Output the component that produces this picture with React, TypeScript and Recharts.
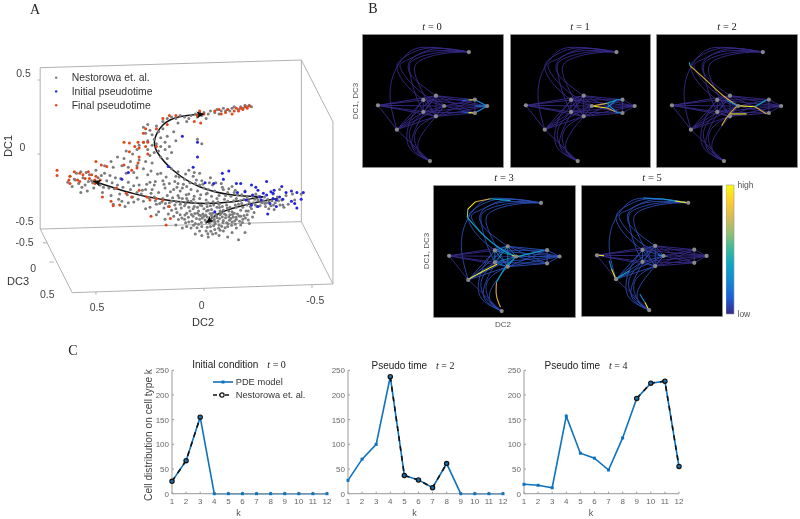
import React from "react";
import {
  ComposedChart,
  BarChart,
  Bar,
  LineChart,
  Line,
  Scatter,
  XAxis,
  YAxis,
  Legend,
} from "recharts";

type Pair = [number, number];

/* ---------- panel A: readings, [DC2, DC1] as projected on the page ---------- */
const nestorowaCells: Pair[] = [
  [.19,.22],[.17,.24],[.15,.25],[.13,.24],[.11,.26],[.09,.25],[.07,.24],[.06,.26],[.04,.27],[.02,.28],[.01,.26],[0,.28],[-.02,.27],[-.03,.29],[-.05,.28],[-.06,.30],[-.08,.29],[-.09,.31],[-.11,.30],[-.12,.29],[-.13,.31],[-.14,.32],[-.16,.30],[-.17,.32],[-.18,.31],[-.19,.33],[-.20,.32],[-.21,.33],[-.22,.32],[-.10,.29],[-.07,.27],[.03,.25],[-.01,.24],[.08,.22],[.12,.21],
  [.28,.18],[.26,.20],[.25,.16],[.27,.14],[.24,.13],[.22,.19],[.21,.15],[.23,.10],[.20,.11],[.19,.17],[.26,.09],[.24,.06],[.22,.07],[.20,.05],[.18,.08],[.17,.12],[.28,.08],[.30,.06],[.31,.03],[.26,.03],[.23,.01],[.21,.02],[.18,.03],[.16,.05],[.15,.01],[.25,-.01],[.20,-.02],[.17,-.03],[.13,.09],[.14,.15],[.33,0],[.36,.02],[.40,-.02],[.37,-.03],[.34,-.05],[.30,-.04],[.27,-.05],[.43,-.05],[.46,-.08],[.42,-.09],[.38,-.08],[.35,-.09],[.31,-.08],[.28,-.10],[.24,-.06],[.03,.10],[.01,.07],
  [.62,-.15],[.60,-.17],[.63,-.19],[.59,-.13],[.57,-.12],[.56,-.16],[.58,-.20],[.61,-.22],[.55,-.21],[.53,-.14],[.52,-.18],[.50,-.11],[.51,-.23],[.54,-.25],[.57,-.26],[.49,-.16],[.48,-.21],[.47,-.26],[.46,-.13],[.45,-.18],[.44,-.23],[.43,-.28],[.41,-.16],[.40,-.21],[.39,-.27],[.42,-.34],[.38,-.32],[.36,-.13],[.35,-.19],[.34,-.24],[.33,-.29],[.35,-.33],[.31,-.16],[.30,-.21],[.29,-.27],[.28,-.32],[.27,-.37],[.26,-.14],[.25,-.19],[.24,-.24],[.23,-.29],[.22,-.34],[.21,-.39],[.20,-.13],[.19,-.18],[.18,-.23],[.17,-.28],[.16,-.33],[.15,-.38],[.14,-.42],[.18,-.44],[.22,-.41],[.25,-.36],
  [.15,-.10],[.13,-.15],[.12,-.20],[.11,-.25],[.10,-.30],[.09,-.35],[.08,-.40],[.12,-.12],[.09,-.17],[.08,-.22],[.07,-.27],[.06,-.32],[.05,-.37],[.07,-.11],[.05,-.15],[.04,-.20],[.03,-.25],[.02,-.30],[.01,-.35],[.02,-.13],[.01,-.18],[0,-.23],[-.01,-.27],[-.02,-.33],[-.03,-.16],[-.04,-.21],[-.05,-.25],[-.06,-.30],[-.07,-.34],[-.08,-.20],[-.09,-.24],[-.10,-.28],[-.11,-.32],[-.12,-.36],[-.13,-.22],[-.14,-.26],[-.15,-.30],[-.16,-.34],[-.17,-.38],[-.19,-.25],[-.20,-.29],[-.21,-.33],[-.22,-.37],[-.24,-.27],[-.25,-.31],[-.26,-.35],[-.28,-.29],[-.29,-.33],[-.30,-.37],[-.32,-.27],[-.33,-.33],[-.35,-.24],[-.36,-.31],[-.38,-.28],[-.39,-.34],[-.41,-.27],[-.42,-.31],[-.45,-.27],
  [.13,-.37],[.11,-.41],[.09,-.44],[.07,-.46],[.05,-.42],[.04,-.47],[.03,-.40],[.02,-.44],[.01,-.49],[0,-.42],[-.01,-.46],[-.01,-.52],[-.02,-.38],[-.03,-.44],[-.03,-.49],[-.04,-.54],[-.04,-.40],[-.05,-.46],[-.05,-.51],[-.06,-.43],[-.07,-.48],[-.07,-.55],[-.08,-.40],[-.09,-.45],[-.09,-.52],[-.10,-.43],[-.11,-.49],[-.11,-.56],[-.12,-.41],[-.13,-.46],[-.13,-.53],[-.14,-.40],[-.15,-.44],[-.15,-.50],[-.16,-.58],[-.17,-.42],[-.17,-.48],[-.18,-.44],[-.19,-.53],[-.20,-.41],[-.21,-.47],[.06,-.50],[.08,-.49],[.10,-.50],[.13,-.48],[.04,-.54],[.01,-.55],[-.02,-.56],[.02,-.52],[-.06,-.36],[-.09,-.38],[-.13,-.39],[-.18,-.36],[0,-.37],[.04,-.33],[.08,-.30],[.12,-.28],[.14,-.24],[.16,-.20],[.10,-.23],[.06,-.24],[.02,-.21],[-.02,-.24],[-.07,-.28],[-.11,-.26],[-.15,-.36],[-.03,-.35],[-.01,-.31],[.03,-.36],[.07,-.36],[.11,-.34],[.15,-.32],[.19,-.30],[.21,-.26],[.23,-.21],[.27,-.24],[.31,-.26],[-.23,-.33],[-.27,-.33],[-.31,-.35],[-.34,-.29],[-.37,-.36],
  [.205,-.335],[.185,-.365],[.165,-.405],[.125,-.395],[.105,-.365],[.085,-.335],[.065,-.385],[.045,-.355],[.025,-.385],[.005,-.405],[-.015,-.425],[-.035,-.415],[-.025,-.465],[-.045,-.485],[-.065,-.455],[-.085,-.425],[-.105,-.465],[-.125,-.435],[-.145,-.475],[-.165,-.455],[-.185,-.415],[-.205,-.445],[-.225,-.425],[-.195,-.385],[-.155,-.405],[-.115,-.385],[-.075,-.385],[-.055,-.405],[-.095,-.405],[-.135,-.425],[-.075,-.515],[-.055,-.535],[-.015,-.495],[.025,-.475],[.055,-.455],[.085,-.465],[.015,-.415],[.035,-.435],[-.005,-.445],[-.035,-.375],[-.015,-.355],[-.045,-.345],[-.085,-.355],[-.105,-.345],[-.145,-.345],[-.175,-.335],[-.205,-.315],[-.235,-.305],[-.255,-.285],[-.275,-.315],[-.295,-.305],[-.315,-.315],[-.345,-.315],[-.365,-.345],[-.325,-.375],[-.285,-.355],[-.245,-.355],[-.215,-.355],[-.185,-.305],[-.155,-.275],[-.125,-.285],[-.095,-.305],[-.065,-.325],[-.035,-.285],[-.015,-.265],[.015,-.275],[.045,-.285],[.075,-.315],[.105,-.325],[.135,-.345],[.165,-.355],[.195,-.325],[.225,-.315],[.255,-.295],[.285,-.245],[.265,-.205],[.225,-.185],[.185,-.205],[.155,-.255],[.125,-.225],[.095,-.205],[.065,-.195],[.035,-.175],[.005,-.205],[-.025,-.195],[-.055,-.195],[-.085,-.225],[-.115,-.235],[-.145,-.245],[-.175,-.275],[-.225,-.285],[.325,-.215],[.355,-.275],[.375,-.225],[.415,-.235],[.395,-.305],[.365,-.355],[.325,-.325],[.305,-.305],[.245,-.265],[.145,-.295],[.115,-.155],[.085,-.135],[.045,-.125],[.135,-.185],[.175,-.155],[.215,-.135],[.245,-.115],[.325,-.125],[.385,-.165],[.435,-.145],[.475,-.145],[.515,-.195],[.465,-.225],[.535,-.185],[.565,-.225],[.595,-.175],[.545,-.125],[.425,-.195],
  [-.012,-.385],[-.028,-.402],[-.042,-.428],[-.058,-.418],[-.072,-.436],[-.088,-.462],[-.102,-.412],[-.118,-.448],[-.132,-.408],[-.148,-.428],[-.162,-.418],[-.178,-.462],[-.192,-.432],[-.052,-.472],[-.068,-.502],[-.082,-.488],[-.098,-.498],[-.112,-.472],[-.128,-.482],[-.008,-.412],[.008,-.432],[.022,-.412],[.042,-.402],[.058,-.408],[.072,-.428],[.088,-.412],[.102,-.432],[.118,-.442],[.012,-.462],[.032,-.498],[.048,-.482],[-.032,-.522],[-.018,-.538],[-.048,-.442],[-.035,-.455],[-.075,-.41],[-.115,-.425],[-.142,-.452],[-.205,-.385],[-.232,-.395],[-.262,-.325],[-.282,-.335],[-.302,-.325],[-.322,-.345],[-.352,-.345],[-.238,-.345],[-.198,-.345],[-.168,-.315],[-.138,-.315],[-.108,-.365],[-.072,-.362],[-.042,-.322],[-.012,-.335],[.018,-.345],[.048,-.305],[.082,-.275],[.115,-.295],[.178,-.335],[.128,-.325],
];
const initialPseudotime: Pair[] = [
  [.10,.12],[.03,.08],[.03,-.02],[.05,-.09],[.165,-.085],[.35,-.125],[.38,-.17],[-.085,-.13],[-.115,-.115],[-.09,-.17],[-.005,-.195],[-.045,-.2],[-.15,-.2],[-.17,-.2],[-.22,-.21],[-.24,-.225],[-.25,-.245],[-.275,-.265],[-.29,-.185],[-.155,-.26],[-.19,-.255],[-.225,-.277],[-.26,-.29],[-.29,-.277],[-.31,-.255],[-.325,-.245],[-.36,-.22],[-.38,-.26],[-.405,-.25],[-.43,-.26],[-.46,-.26],[-.35,-.29],[-.32,-.3],[-.335,-.31],[-.365,-.305],[-.405,-.32],[-.42,-.335],[-.45,-.305],[-.43,-.365],[-.335,-.355],[-.295,-.405],[-.25,-.355],[-.22,-.345],[-.195,-.31],[-.05,-.39],[-.32,-.265],[-.265,-.31],[-.305,-.335],
];
const finalPseudotime: Pair[] = [
  [-.05,.29],[-.07,.30],[-.08,.27],[-.10,.28],[-.11,.30],[-.13,.27],[-.14,.29],[-.15,.31],[-.16,.29],[-.17,.31],[-.18,.30],[-.19,.32],[-.20,.31],[-.21,.325],[.02,.29],[0,.27],[.03,.26],[.015,.21],[.045,.22],[.13,.26],[.16,.26],[.19,.24],[.17,.2],
  [.27,.17],[.22,.17],[.28,.14],[.305,.08],[.28,.08],[.26,.08],[.37,.08],[.345,.075],[.32,.05],[.30,.04],[.27,.05],[.22,.05],[.26,0],[.345,.015],[.30,-.02],[.305,-.06],[.37,-.075],[.335,-.11],[.31,-.095],
  [.68,-.11],[.68,-.145],[.62,-.15],[.625,-.175],[.6,-.12],[.575,-.13],[.56,-.14],[.535,-.12],[.52,-.14],[.5,-.15],[.48,-.175],[.505,-.175],[.53,-.165],[.55,-.165],[.585,-.175],[.5,-.05],[.475,-.075],[.45,-.085],[.505,-.2],[.575,-.185],[.62,-.2],
  [.47,-.29],[.43,-.32],[.42,-.35],[.39,-.345],[.335,-.29],[.3,-.245],[.265,-.29],[.25,-.31],[.22,-.3],[.19,-.31],[.245,-.42],[.155,-.435],[.175,-.48],[.36,-.265],[.405,-.23],[.16,-.355],
];
const trajectories: Pair[][] = [
  [[-.273,-.288],[-.134,-.277],[.02,-.221],[.144,-.108],[.213,.005],[.228,.095],[.19,.196],[.113,.252],[-.003,.27]],
  [[-.273,-.288],[-.134,-.322],[.02,-.333],[.174,-.311],[.329,-.266],[.514,-.182]],
  [[-.343,-.30],[-.258,-.322],[-.134,-.367],[-.057,-.412],[-.008,-.468]],
];
const boxEdges: Pair[][] = [
  [[.758,.583],[-.451,.635]],
  [[.758,.583],[.758,-.507]],
  [[.758,-.507],[-.451,-.457]],
  [[-.451,.635],[-.451,-.457]],
  [[-.451,.635],[-.597,.218]],
  [[-.597,.218],[-.597,-.878]],
  [[-.451,-.457],[-.597,-.878]],
  [[.758,-.507],[.61,-.937]],
  [[.61,-.937],[-.597,-.878]],
  [[.5,-.93],[.5,-.95]],
  [[0,-.905],[0,-.925]],
  [[-.5,-.885],[-.5,-.905]],
  [[.758,.5],[.77,.5]],
  [[.758,0],[.77,0]],
  [[.725,-.6],[.745,-.6]],
  [[.695,-.73],[.715,-.73]],
];
const axisLabelsA = [
  { x: .835, y: .54, text: "0.5" },
  { x: .84, y: .04, text: "0" },
  { x: .83, y: -.46, text: "-0.5" },
  { x: .83, y: -.6, text: "-0.5" },
  { x: .79, y: -.78, text: "0" },
  { x: .725, y: -.955, text: "0.5" },
  { x: .495, y: -1.04, text: "0.5" },
  { x: .01, y: -1.025, text: "0" },
  { x: -.515, y: -.995, text: "-0.5" },
];
const legendLabelsA = ["Nestorowa et. al.", "Initial pseudotime", "Final pseudotime"];

/* ---------- panel B: graph layout on a 0-100 square, node readings ---------- */
const T: Pair = [75.9, 87.1];
const L: Pair = [10.7, 46.7];
const LL: Pair = [24.3, 28.3];
const B: Pair = [48, 4.5];
const A: Pair = [43.2, 50.8];
const C: Pair = [43.2, 41.7];
const U: Pair = [52.3, 54];
const D: Pair = [52.3, 38.4];
const E: Pair = [58.2, 46.2];
const R1: Pair = [80.2, 51];
const R2: Pair = [80.2, 40.9];
const R3: Pair = [89, 46.2];
const nodes = [T, L, LL, B, A, C, U, D, E, R1, R2, R3];

const arcEdges: Pair[][] = [
  [T, [45.8, 90.7], [31.5, 85.6], [22, 70.5], [19.6, 50.3], LL],
  [T, [48.2, 90.2], [31.5, 84.4], [24.3, 75.5], [31.5, 61.6], A],
  [T, [50.6, 89.4], [33.4, 81.8], [26.7, 75.5], [38.7, 59.1], E],
  [T, [53, 88.1], [36.3, 83.1], [33.9, 70.5], U],
  [T, [55.3, 86.9], [37.5, 81.8], [33.4, 73], [37.5, 55.3], C],
  [T, [58, 86], [40, 80], [38, 68], [46, 50], D],
  [B, [36.3, 14.9], [33.9, 28.8], C],
  [B, [34.5, 13], [31.5, 25], [35, 38], A],
  [B, [40, 12], [37, 24], [43, 33], D],
  [B, [41, 10], [40, 20], [48, 33], E],
  [B, [39, 10], [35, 20], [42, 38], U],
];
const leftFan: Pair[][] = [[L, A], [L, C], [L, U], [L, D], [L, E], [L, LL], [LL, B]];
const lowFan: Pair[][] = [[LL, A], [LL, C], [LL, U], [LL, D], [LL, E]];
const meshEdges: Pair[][] = [[A, C], [A, U], [A, D], [A, E], [C, U], [C, D], [C, E], [U, D], [U, E], [D, E]];
const rightFan: Pair[][] = [[A, R1], [U, R1], [U, R2], [E, R1], [E, R2], [E, R3], [D, R2], [C, R2], [D, R1], [U, R3], [D, R3], [A, R3], [C, R3], [R1, R2], [R1, R3], [R2, R3]];

const parulaStops = ["#352a87", "#1d5ed8", "#1487d4", "#0ca5c4", "#38b99e", "#92bf73", "#d9ba56", "#fcce2e", "#f9fb0e"];
const indigo = parulaStops[0];
const blue = parulaStops[1];
const skyBlue = parulaStops[2];
const teal = parulaStops[3];
const dullBlue = "#2a4db4";
const gold = "#d8ae3c";
const yellow = "#f5ec20";

type Stroke = { color: string; pts: Pair[] };
const flowT0: Stroke[] = [
  { color: blue, pts: [[70.9, 50.3], [75.7, 50.8]] },
  { color: yellow, pts: [[75.7, 50.8], R1] },
  { color: blue, pts: [[70.9, 41.9], [75.7, 41.2]] },
  { color: yellow, pts: [[75.7, 41.2], R2] },
  { color: skyBlue, pts: [R1, R3] },
  { color: skyBlue, pts: [R2, R3] },
  { color: skyBlue, pts: [[80.4, 46.2], R3] },
];
const flowT1: Stroke[] = [
  { color: yellow, pts: [E, [69, 44.7]] },
  { color: gold, pts: [[69, 44.7], [76.1, 41.4]] },
  { color: skyBlue, pts: [[76.1, 41.4], R2] },
  { color: gold, pts: [E, [69, 48.2]] },
  { color: teal, pts: [[69, 48.2], [76.1, 51]] },
  { color: skyBlue, pts: [[76.1, 51], R1] },
  { color: skyBlue, pts: [[69, 44.7], [76.1, 51]] },
  { color: skyBlue, pts: [[69, 48.2], [76.1, 41.4]] },
];
const flowT2: Stroke[] = [
  { color: teal, pts: [[23.2, 79.3], [23.6, 76.8]] },
  { color: gold, pts: [[23.6, 76.8], [35.6, 65.4], [47.5, 54], [57, 47]] },
  { color: yellow, pts: [[57, 46.5], [70.2, 45.7]] },
  { color: teal, pts: [[70.2, 45.7], [78.5, 50.8]] },
  { color: gold, pts: [[70.2, 45.7], [78.5, 40.2]] },
  { color: yellow, pts: [[52.3, 40.2], [64.2, 40.2]] },
  { color: gold, pts: [[46.3, 31.3], [51, 38.9], [57, 45.7]] },
  { color: skyBlue, pts: [[49.9, 50.3], E] },
];
const flowT3: Stroke[] = [
  { color: teal, pts: [[54.2, 88.8], [40, 90.3]] },
  { color: gold, pts: [[40, 90.3], [29.5, 88]] },
  { color: yellow, pts: [[29.5, 88], [24, 82.4]] },
  { color: "#92bf73", pts: [[24, 82.4], [23.6, 76]] },
  { color: teal, pts: [[23.6, 76], [35.4, 62.1], [47.2, 51.9], [56.6, 46.8]] },
  { color: yellow, pts: [[24.3, 28.8], [34.2, 34.6], [44.8, 40.2]] },
  { color: gold, pts: [[47.2, 7.4], [44.3, 16.3], [44.3, 26.5]] },
  { color: teal, pts: [[44.3, 26.5], [50.7, 37.9], [57.8, 45.5]] },
  { color: yellow, pts: [[55.4, 46.8], [60.1, 46.3]] },
  { color: teal, pts: [[60.1, 46.3], [77.8, 50.9]] },
];
const flowT5: Stroke[] = [
  { color: yellow, pts: [[74.6, 87.2], [66.3, 88.5]] },
  { color: teal, pts: [[66.3, 88.5], [58, 90]] },
  { color: skyBlue, pts: [[58, 90], [43.7, 90.8]] },
  { color: yellow, pts: [[24.2, 28.5], [21.1, 36.2]] },
  { color: skyBlue, pts: [[21.1, 36.2], [19.5, 42.6]] },
  { color: yellow, pts: [[10.9, 46.9], [15.7, 46.4]] },
  { color: teal, pts: [[24.2, 28.5], [34.2, 34.9]] },
  { color: yellow, pts: [[47.5, 5.1], [44.9, 10.5]] },
  { color: skyBlue, pts: [[44.9, 10.5], [41.3, 16.9]] },
  { color: skyBlue, pts: [[54.5, 46.8], E, [61, 46]] },
];

/* ---------- panel C: cell counts per cell type ---------- */
const cellTypes = [1, 2, 3, 4, 5, 6, 7, 8, 9, 10, 11, 12];
const countTicks = [0, 50, 100, 150, 200, 250];
const modelT0 = [25, 67, 155, 0, 0, 0, 0, 0, 0, 0, 0, 0];
const dataT0 = [25, 67, 155, null, null, null, null, null, null, null, null, null];
const modelT2 = [27, 70, 100, 237, 37, 28, 12, 61, 0, 0, 0, 0];
const dataT2 = [null, null, null, 237, 37, 28, 12, 61, null, null, null, null];
const modelT4 = [19, 17, 12, 157, 82, 72, 48, 113, 193, 224, 228, 55];
const dataT4 = [null, null, null, null, null, null, null, null, 193, 224, 228, 55];

const sans = "'Liberation Sans', Arial, sans-serif";
const serif = "'Liberation Serif', serif";
const toPts = (list: Pair[]) => list.map(([x, y]) => ({ x, y }));

const dot = (fill: string, r = 1.25) => (p: any) => (
  <circle cx={p.cx} cy={p.cy} r={r} fill={fill} />
);

function Floating({ left, top, children, style }: any) {
  return (
    <div style={{ position: "absolute", left, top, transform: "translate(-50%,-50%)", whiteSpace: "nowrap", ...style }}>
      {children}
    </div>
  );
}

function MathTitle({ name, t }: { name?: string; t: number }) {
  return (
    <>
      {name && <span style={{ fontFamily: sans, marginRight: 9 }}>{name}</span>}
      <span style={{ fontFamily: serif }}>
        <i>t</i> = {t}
      </span>
    </>
  );
}

function ScatterPanel() {
  // page scale of the projected axes, used only to aim the arrow tips
  const dc2Px = 216;
  const dc1Px = 148;
  return (
    <div style={{ position: "absolute", left: 0, top: 0 }}>
      <ComposedChart width={350} height={330} margin={{ top: 0, right: 0, bottom: 0, left: 0 }}>
        <XAxis type="number" dataKey="x" hide reversed domain={[-0.676, 0.944]} allowDataOverflow />
        <YAxis type="number" dataKey="y" hide domain={[-1.189, 1.0405]} allowDataOverflow />
        {boxEdges.map((edge, i) => (
          <Line key={`box${i}`} data={toPts(edge)} dataKey="y" stroke="#a8a8a8" strokeWidth={0.9} dot={false} isAnimationActive={false} legendType="none" />
        ))}
        <Scatter data={toPts(nestorowaCells)} dataKey="y" shape={dot("#7c7c7c", 1.5)} isAnimationActive={false} />
        <Scatter data={toPts(finalPseudotime)} dataKey="y" shape={dot("#e0471c", 1.5)} isAnimationActive={false} />
        <Scatter data={toPts(initialPseudotime)} dataKey="y" shape={dot("#2323dc", 1.5)} isAnimationActive={false} />
        {trajectories.map((curve, i) => {
          const [x0, y0] = curve[curve.length - 2];
          const [x1, y1] = curve[curve.length - 1];
          const rot = (Math.atan2(-(y1 - y0) * dc1Px, -(x1 - x0) * dc2Px) * 180) / Math.PI;
          return (
            <React.Fragment key={`traj${i}`}>
              <Line data={toPts(curve)} dataKey="y" type="natural" stroke="#111" strokeWidth={1.5} dot={false} isAnimationActive={false} />
              <Scatter
                data={toPts([curve[curve.length - 1]])}
                dataKey="y"
                isAnimationActive={false}
                shape={(p: any) => (
                  <polygon points="0,0 -8,-3.4 -6,0 -8,3.4" fill="#111" transform={`translate(${p.cx},${p.cy}) rotate(${rot})`} />
                )}
              />
            </React.Fragment>
          );
        })}
        <Scatter
          data={axisLabelsA}
          dataKey="y"
          isAnimationActive={false}
          shape={(p: any) => (
            <text x={p.cx} y={p.cy} textAnchor="middle" dominantBaseline="middle" fontFamily={sans} fontSize={10.5} fill="#444">
              {p.payload.text}
            </text>
          )}
        />
        {legendLabelsA.map((label, i) => (
          <Scatter
            key={label}
            data={[{ x: 0.684, y: [0.516, 0.423, 0.329][i] }]}
            dataKey="y"
            isAnimationActive={false}
            shape={(p: any) => (
              <g>
                <circle cx={p.cx} cy={p.cy} r={1.2} fill={["#777777", "#2323dc", "#e0471c"][i]} />
                <text x={p.cx + 15.5} y={p.cy + 0.5} dominantBaseline="middle" fontFamily={sans} fontSize={10.4} fill="#333">
                  {label}
                </text>
              </g>
            )}
          />
        ))}
      </ComposedChart>
      <Floating left={8} top={146} style={{ fontFamily: sans, fontSize: 11, color: "#333", transform: "translate(-50%,-50%) rotate(-90deg)" }}>DC1</Floating>
      <Floating left={18} top={281} style={{ fontFamily: sans, fontSize: 11, color: "#333" }}>DC3</Floating>
      <Floating left={203} top={322} style={{ fontFamily: sans, fontSize: 11, color: "#333" }}>DC2</Floating>
    </div>
  );
}

function NetworkPanel({ left, top, width, height, palette, flow }: any) {
  const groups = [arcEdges, leftFan, lowFan, meshEdges, rightFan];
  return (
    <div style={{ position: "absolute", left, top, width, height, background: "#000", boxShadow: "0 0 0 0.8px #777" }}>
      <ComposedChart width={width} height={height} margin={{ top: 0, right: 0, bottom: 0, left: 0 }}>
        <XAxis type="number" dataKey="x" hide domain={[0, 100]} />
        <YAxis type="number" dataKey="y" hide domain={[0, 100]} />
        {groups.flatMap((edges, g) =>
          edges.map((edge, i) => (
            <Line key={`${g}-${i}`} data={toPts(edge)} dataKey="y" type="natural" stroke={palette[g]} strokeWidth={0.9} dot={false} isAnimationActive={false} />
          ))
        )}
        {flow.map((s: Stroke, i: number) => (
          <Line key={`flow${i}`} data={toPts(s.pts)} dataKey="y" type="natural" stroke={s.color} strokeWidth={1.1} dot={false} isAnimationActive={false} />
        ))}
        <Scatter data={toPts(nodes)} dataKey="y" shape={dot("#8a8a8a", 2.1)} isAnimationActive={false} />
      </ComposedChart>
    </div>
  );
}

function ColorBar() {
  return (
    <div style={{ position: "absolute", left: 726, top: 180 }}>
      <BarChart width={50} height={139} data={[{ level: 1 }]} barCategoryGap={0} margin={{ top: 5, right: 0, bottom: 5, left: 0 }}>
        <defs>
          <linearGradient id="parula" x1="0" y1="1" x2="0" y2="0">
            {parulaStops.map((c, i) => (
              <stop key={c} offset={i / (parulaStops.length - 1)} stopColor={c} />
            ))}
          </linearGradient>
        </defs>
        <XAxis dataKey="level" hide />
        <YAxis
          orientation="right"
          width={42}
          domain={[0, 1]}
          ticks={[0, 1]}
          tickFormatter={(v: number) => (v === 1 ? "high" : "low")}
          axisLine={false}
          tickLine={false}
          tickSize={0}
          tickMargin={3.5}
          tick={{ fontFamily: sans, fontSize: 8.5, fill: "#555" }}
        />
        <Bar dataKey="level" fill="url(#parula)" stroke="#999" strokeWidth={0.6} isAnimationActive={false} />
      </BarChart>
    </div>
  );
}

function DistributionLegend() {
  return (
    <div style={{ fontFamily: sans, fontSize: 9.3, color: "#333", lineHeight: "12.7px" }}>
      <div style={{ display: "flex", alignItems: "center", gap: 2 }}>
        <svg width={21} height={8}>
          <line x1={0} x2={20} y1={4} y2={4} stroke="#0f72bd" strokeWidth={1.6} />
          <rect x={8.5} y={2.5} width={3} height={3} fill="#0f72bd" />
        </svg>
        PDE model
      </div>
      <div style={{ display: "flex", alignItems: "center", gap: 2 }}>
        <svg width={21} height={8}>
          <line x1={0} x2={17} y1={4} y2={4} stroke="#111" strokeWidth={1.6} strokeDasharray="4 2" />
          <circle cx={9} cy={4} r={2.1} fill="#fff" stroke="#111" strokeWidth={1.2} />
        </svg>
        Nestorowa et. al.
      </div>
    </div>
  );
}

function DistributionPanel({ left, model, observed, showLegend, yTitle }: any) {
  const table = cellTypes.map((k, i) => ({ k, model: model[i], observed: observed[i] }));
  const tickStyle = { fontFamily: sans, fontSize: 8, fill: "#666" };
  return (
    <div style={{ position: "absolute", left, top: 350 }}>
      <LineChart width={230} height={169} data={table} margin={{ top: 20.3, right: 25, bottom: 0, left: 0 }}>
        <XAxis
          dataKey="k"
          type="number"
          domain={[1, 12]}
          ticks={cellTypes}
          interval={0}
          height={25.3}
          stroke="#999"
          tickSize={-2}
          tickMargin={7}
          tick={tickStyle}
        />
        <YAxis
          domain={[0, 250]}
          ticks={countTicks}
          width={50}
          stroke="#999"
          tickSize={-2}
          tickMargin={5}
          tick={tickStyle}
          label={yTitle ? { value: yTitle, angle: -90, position: "center", dx: 1, dy: 3, style: { fontFamily: sans, fontSize: 10.2, fill: "#444" } } : undefined}
        />
        <Line
          dataKey="model"
          stroke="#0f72bd"
          strokeWidth={1.6}
          isAnimationActive={false}
          dot={(p: any) => <rect key={p.index} x={p.cx - 1.5} y={p.cy - 1.5} width={3} height={3} fill="#0f72bd" />}
        />
        <Line
          dataKey="observed"
          stroke="#111"
          strokeWidth={1.6}
          strokeDasharray="5 5"
          connectNulls={false}
          isAnimationActive={false}
          dot={{ r: 2.1, fill: "none", stroke: "#111", strokeWidth: 1.3, strokeDasharray: "none" }}
        />
        {showLegend && (
          <Legend
            layout="vertical"
            align="center"
            verticalAlign="middle"
            content={<DistributionLegend />}
            wrapperStyle={{ position: "absolute", left: 91, top: 26, width: "auto", bottom: "auto" }}
          />
        )}
      </LineChart>
    </div>
  );
}

export default function App() {
  const titleStyle = { fontFamily: serif, fontSize: 10.5, color: "#222" };
  const capStyle = { fontFamily: sans, fontSize: 10, color: "#222" };
  const smallStyle = { fontFamily: sans, fontSize: 8, color: "#555" };
  const kStyle = { fontFamily: sans, fontSize: 9, color: "#555" };
  const dim = [indigo, indigo, indigo, indigo, indigo];
  return (
    <div style={{ position: "absolute", left: 0, top: 0, width: 800, height: 519, background: "#fff", overflow: "hidden", filter: "blur(0.35px)" }}>
      <Floating left={35} top={10} style={{ fontFamily: serif, fontSize: 14, color: "#222" }}>A</Floating>
      <Floating left={373} top={9} style={{ fontFamily: serif, fontSize: 14, color: "#222" }}>B</Floating>
      <Floating left={73} top={351} style={{ fontFamily: serif, fontSize: 14, color: "#222" }}>C</Floating>

      <ScatterPanel />

      <Floating left={432} top={26} style={titleStyle}><MathTitle t={0} /></Floating>
      <Floating left={580} top={26} style={titleStyle}><MathTitle t={1} /></Floating>
      <Floating left={727} top={26} style={titleStyle}><MathTitle t={2} /></Floating>
      <Floating left={504} top={177} style={titleStyle}><MathTitle t={3} /></Floating>
      <Floating left={652} top={177} style={titleStyle}><MathTitle t={5} /></Floating>
      <NetworkPanel left={363} top={34.5} width={139.5} height={132} palette={dim} flow={flowT0} />
      <NetworkPanel left={510.5} top={34.5} width={139} height={132} palette={dim} flow={flowT1} />
      <NetworkPanel left={657} top={34.5} width={139.5} height={132} palette={dim} flow={flowT2} />
      <NetworkPanel left={433.5} top={185.5} width={141} height={131} palette={[dullBlue, indigo, dullBlue, skyBlue, dullBlue]} flow={flowT3} />
      <NetworkPanel left={582} top={185.5} width={140} height={130} palette={[dullBlue, indigo, dullBlue, dullBlue, indigo]} flow={flowT5} />
      <ColorBar />
      <Floating left={355} top={101} style={{ ...smallStyle, transform: "translate(-50%,-50%) rotate(-90deg)" }}>DC1, DC3</Floating>
      <Floating left={426} top={251} style={{ ...smallStyle, transform: "translate(-50%,-50%) rotate(-90deg)" }}>DC1, DC3</Floating>
      <Floating left={503} top={324} style={smallStyle}>DC2</Floating>

      <DistributionPanel left={121.7} model={modelT0} observed={dataT0} showLegend yTitle="Cell distribution on cell type k" />
      <DistributionPanel left={298} model={modelT2} observed={dataT2} />
      <DistributionPanel left={474.3} model={modelT4} observed={dataT4} />
      <Floating left={239} top={364} style={capStyle}><MathTitle name="Initial condition" t={0} /></Floating>
      <Floating left={413} top={364.5} style={capStyle}><MathTitle name="Pseudo time" t={2} /></Floating>
      <Floating left={586} top={364.5} style={capStyle}><MathTitle name="Pseudo time" t={4} /></Floating>
      <Floating left={238.5} top={513} style={kStyle}>k</Floating>
      <Floating left={414.5} top={513} style={kStyle}>k</Floating>
      <Floating left={591} top={513} style={kStyle}>k</Floating>
    </div>
  );
}
